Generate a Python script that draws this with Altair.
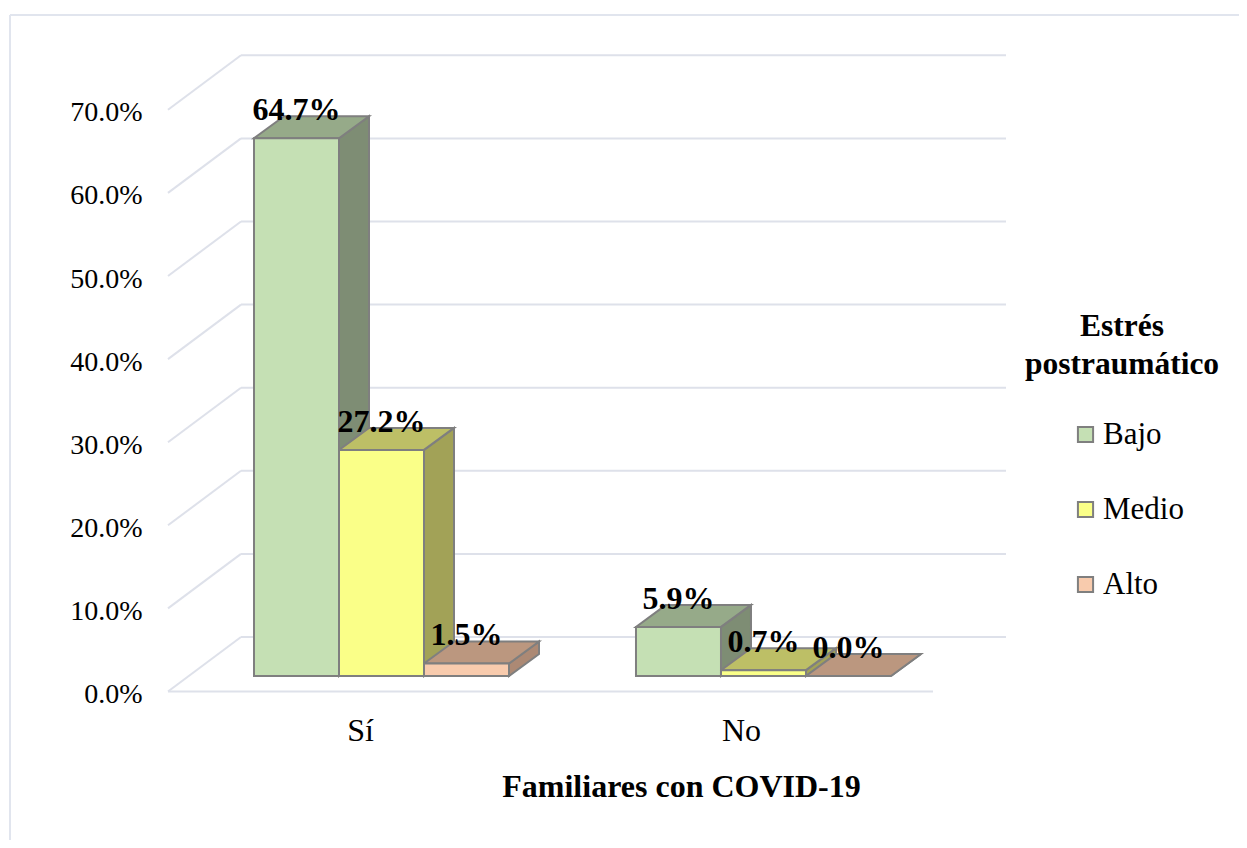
import altair as alt
import pandas as pd

# ---- data ----
groups = ["Sí", "No"]
levels = ["Bajo", "Medio", "Alto"]
values = {"Sí": [64.7, 27.2, 1.5], "No": [5.9, 0.7, 0.0]}
ticks = [0, 10, 20, 30, 40, 50, 60, 70]
x_title = "Familiares con COVID-19"
legend_title = "Estrés\npostraumático"

front_colors = ["#C5E0B4", "#FAFF88", "#F8CBAD"]
top_colors = ["#96AA89", "#BDBF66", "#BB977F"]
side_colors = ["#7E8D74", "#A2A257", "#AC8974"]
edge = "#7F7F7F"
grid = "#DEE1EA"
frame = "#E1E5EE"
FONT = "Liberation Serif"

# ---- geometry (in scale units: 1 x-unit = one bar width, y-unit = percent) ----
W, H = 1231, 832
PX_X, PX_Y = 85.0, 8.31
x_origin = 246.0   # px of x=0 inside the plot
y_origin = 683.5   # px of y=0 inside the plot
group_start = [0.0, 4.494]
group_label = [1.247, 5.729]
bar_base = 1.87
bar_dx, bar_dy = 30 / PX_X, 22 / PX_Y
floor_dx, floor_dy = 73 / PX_X, 54.5 / PX_Y
grid_left = -86 / PX_X
grid_right = (933 - 254) / PX_X

xs = alt.Scale(domain=[-x_origin / PX_X, (W - x_origin) / PX_X], range=[0, W], nice=False, zero=False)
ys = alt.Scale(domain=[-(H - y_origin) / PX_Y, y_origin / PX_Y], range=[H, 0], nice=False, zero=False)

fronts, sides, tops = [], [], []
for g, start in zip(groups, group_start):
    for i, (lev, v) in enumerate(zip(levels, values[g])):
        x0, x1 = start + i, start + i + 1
        y0, y1 = bar_base, bar_base + v
        bid = f"{g}-{lev}"
        fronts.append(dict(id=bid, group=g, level=lev, value=v, x0=x0, x1=x1, y0=y0, y1=y1,
                           xc=(x0 + x1) / 2, label=f"{v:.1f}%"))
        sides += [
            dict(id=bid, c=side_colors[i], x=x1, y=y1, y2=y0),
            dict(id=bid, c=side_colors[i], x=x1 + bar_dx, y=y1 + bar_dy, y2=y0 + bar_dy),
        ]
        tops += [
            dict(id=bid, c=top_colors[i], y=y1, x=x0, x2=x1),
            dict(id=bid, c=top_colors[i], y=y1 + bar_dy, x=x0 + bar_dx, x2=x1 + bar_dx),
        ]

grid_rows = []
for t in ticks:
    grid_rows.append(dict(x0=grid_left, x1=grid_left + floor_dx, y0=t, y1=t + floor_dy))
    grid_rows.append(dict(x0=grid_left + floor_dx, x1=grid_right + floor_dx, y0=t + floor_dy, y1=t + floor_dy))
grid_rows.append(dict(x0=grid_left, x1=grid_right, y0=0, y1=0))

y_axis = alt.Axis(values=ticks, labelExpr="format(datum.value, '.1f') + '%'", domain=False, ticks=False,
                  grid=False, title=None, offset=-134, labelPadding=0, labelFont=FONT, labelFontSize=28,
                  labelColor="#000000", labelOverlap=False, labelBound=False, labelFlush=False, labelOffset=3)
x_axis = alt.Axis(values=group_label, labelExpr=f"datum.value < 3 ? '{groups[0]}' : '{groups[1]}'", domain=False,
                  ticks=False, grid=False, title=x_title, offset=-(H - 707), labelPadding=0, labelFont=FONT,
                  labelFontSize=32, labelColor="#000000", labelOverlap=False, labelFlush=False, labelAngle=0,
                  titleFont=FONT, titleFontSize=32, titleFontWeight="bold", titleColor="#000000",
                  titleX=673, titleY=71, titleAlign="center", titleBaseline="middle")

X = lambda f, **kw: alt.X(f, scale=xs, axis=x_axis, **kw)
Y = lambda f, **kw: alt.Y(f, scale=ys, axis=y_axis, **kw)

grid_layer = alt.Chart(pd.DataFrame(grid_rows)).mark_rule(color=grid, strokeWidth=2).encode(
    x=X("x0:Q"), x2="x1:Q", y=Y("y0:Q"), y2="y1:Q",
)
side_layer = alt.Chart(pd.DataFrame(sides)).mark_area(stroke=edge, strokeWidth=2, opacity=1, line=False).encode(
    x=X("x:Q"), y=Y("y:Q", stack=None), y2="y2:Q",
    detail="id:N", fill=alt.Fill("c:N", scale=None),
)
top_layer = alt.Chart(pd.DataFrame(tops)).mark_area(orient="horizontal", stroke=edge, strokeWidth=2, opacity=1).encode(
    y=Y("y:Q"), x=X("x:Q", stack=None), x2="x2:Q",
    detail="id:N", fill=alt.Fill("c:N", scale=None),
)
fdf = pd.DataFrame(fronts)
front_layer = alt.Chart(fdf).mark_rect(stroke=edge, strokeWidth=2, opacity=1).encode(
    x=X("x0:Q"), x2="x1:Q", y=Y("y0:Q"), y2="y1:Q",
    color=alt.Color("level:N", scale=alt.Scale(domain=levels, range=front_colors),
                    legend=alt.Legend(orient="none", legendX=1062, legendY=411, title=None, symbolType="square",
                                      symbolSize=230, symbolStrokeColor=edge, symbolStrokeWidth=2, symbolOpacity=1,
                                      labelFont=FONT, labelFontSize=31, labelColor="#000000", labelOffset=2,
                                      rowPadding=43, padding=0)),
)
label_layer = alt.Chart(fdf).mark_text(font=FONT, fontSize=32, fontWeight="bold", color="#000000", dy=-28,
                                       baseline="middle", align="center").encode(
    x=X("xc:Q"), y=Y("y1:Q"), text="label:N",
)
legend_head = alt.Chart(pd.DataFrame({"t": [legend_title]})).mark_text(
    font=FONT, fontSize=31.5, fontWeight="bold", color="#000000", lineBreak="\n", lineHeight=38,
    align="center", baseline="middle").encode(x=alt.value(1114), y=alt.value(319), text="t:N")

frame_rows = pd.DataFrame({"k": [0]})
frame_left = alt.Chart(frame_rows).mark_rule(color=frame, strokeWidth=2).encode(
    x=alt.value(2), y=alt.value(7), y2=alt.value(H))
frame_top = alt.Chart(frame_rows).mark_rule(color=frame, strokeWidth=2).encode(
    x=alt.value(2), x2=alt.value(W), y=alt.value(7))

chart = alt.layer(frame_left, frame_top, grid_layer, side_layer, top_layer, front_layer, label_layer, legend_head).properties(
    width=W, height=H, padding=0, autosize=alt.AutoSizeParams(type="none"), background="#FFFFFF",
).configure_view(stroke=None)

chart.save("out.html", embed_options={"renderer": "svg", "actions": False})
